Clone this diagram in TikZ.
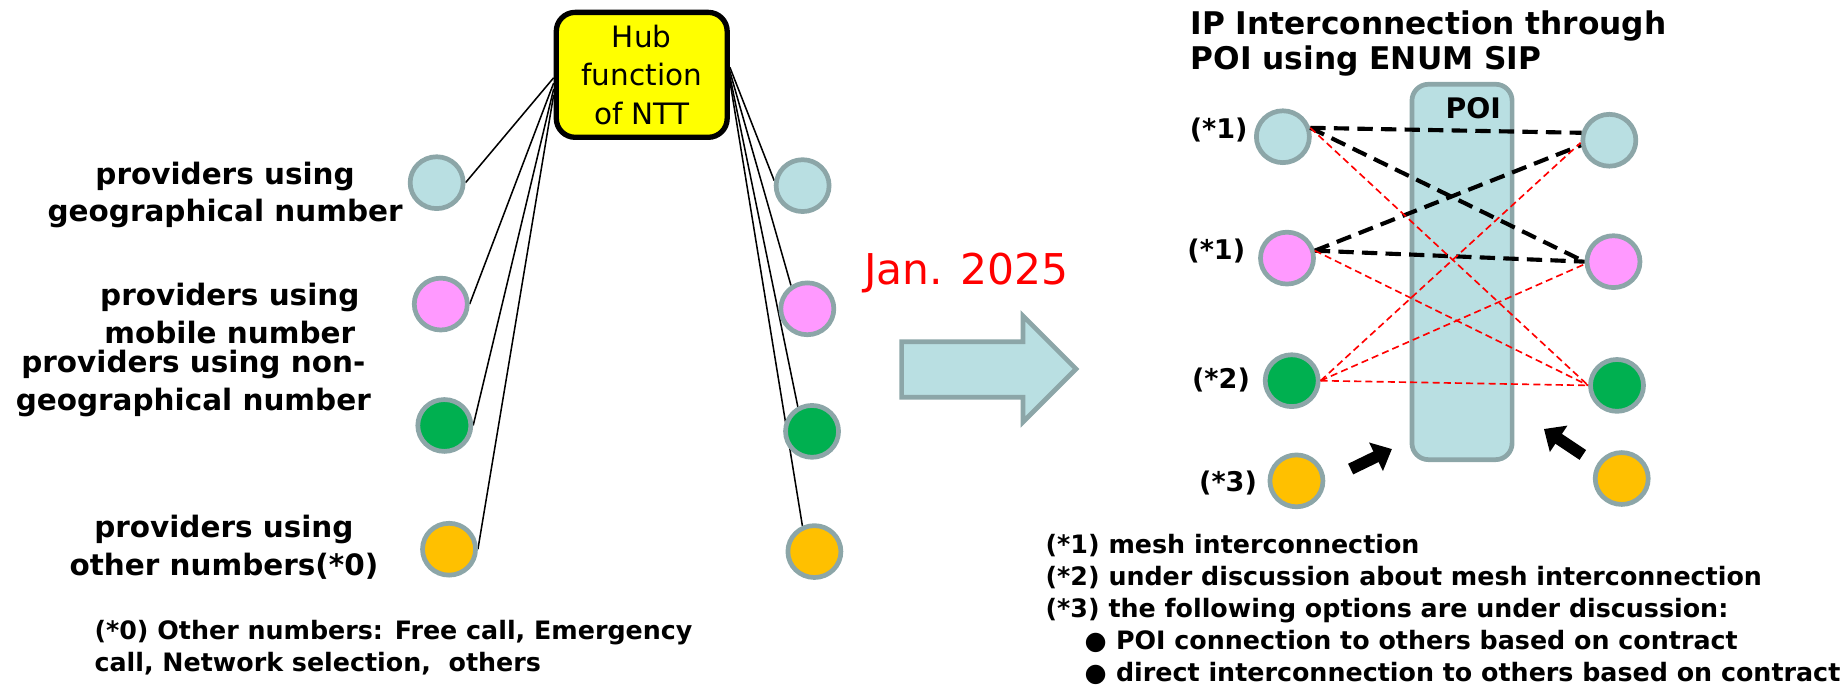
\documentclass[tikz,border=0pt]{standalone}
\usepackage{fontspec}
\setmainfont{DejaVu Sans}
\usetikzlibrary{shapes.geometric,arrows.meta,backgrounds}
\definecolor{lblue}{HTML}{B9DFE2}
\definecolor{pinkc}{HTML}{FF99FF}
\definecolor{greenc}{HTML}{00B050}
\definecolor{orangec}{HTML}{FFC000}
\definecolor{rim}{HTML}{8CA6A8}
\definecolor{hubyellow}{HTML}{FFFF00}
\begin{document}
\begin{tikzpicture}[x=1pt,y=-1pt,
  prov/.style={ellipse, draw=rim, line width=4pt, minimum width=45pt, minimum height=44pt, inner sep=0pt},
  hubline/.style={draw=black, line width=1.3pt},
  mesh/.style={draw=black, line width=3.5pt, dash pattern=on 13pt off 7pt},
  disc/.style={draw=red, line width=1.4pt, dash pattern=on 6pt off 3.5pt},
  lbl/.style={font=\bfseries\fontsize{25}{32}\selectfont, align=center, inner sep=0pt},
  note/.style={font=\bfseries\fontsize{21.5}{27}\selectfont, align=left, inner sep=0pt, anchor=west},
  starlbl/.style={font=\bfseries\fontsize{23}{28}\selectfont, inner sep=0pt},
  poke/.style={draw=black, line width=10pt, -{Triangle[length=15pt,width=26pt]}},
]
\useasboundingbox (0,0) rectangle (1568,582);

% ---------- left part: hub ----------
\node[draw=black, line width=4.5pt, fill=hubyellow, rounded corners=16pt,
      minimum width=145pt, minimum height=106pt, align=center,
      font=\fontsize{25}{32.5}\selectfont, inner sep=0pt] (hub) at (544.5,63.5) {Hub\\function\\of NTT};

\node[prov, fill=lblue]   (lb) at (370.5,155) {};
\node[prov, fill=pinkc]   (lp) at (374,258) {};
\node[prov, fill=greenc]  (lg) at (377,361) {};
\node[prov, fill=orangec] (lo) at (381,466) {};

\node[prov, fill=lblue]   (rb) at (681,157.5) {};
\node[prov, fill=pinkc]   (rp) at (685,262) {};
\node[prov, fill=greenc]  (rg) at (689,366) {};
\node[prov, fill=orangec] (ro) at (691,468) {};

\begin{scope}[on background layer]
\draw[hubline] ([yshift=-2.5pt]hub.west) -- (lb.east);
\draw[hubline] ([yshift=-7pt]hub.west) -- (lp.east);
\draw[hubline] ([yshift=-12pt]hub.west) -- (lg.east);
\draw[hubline] ([yshift=-17pt]hub.west) -- (lo.east);
\draw[hubline] ([yshift=6.5pt]hub.east) -- (rb.170);
\draw[hubline] ([yshift=3pt]hub.east) -- (rp.125);
\draw[hubline] ([yshift=-1pt]hub.east) -- (rg.120);
\draw[hubline] ([yshift=-5pt]hub.east) -- (ro.115);
\end{scope}

\node[lbl] (tgeo) at (191,165.5) {providers using\\geographical number};
\node[lbl] (tmob) at (195,266) {providers using\\mobile number};
\node[lbl] (tnon) at (164,325.5) {providers using non-\\geographical number};
\node[lbl] (toth) at (190,464.5) {providers using\\other numbers(*0)};
\node[note] (n0) at (80,549.5) {(*0) Other numbers: Free call, Emergency\\call, Network selection,\ \ others};

% ---------- transition ----------
\draw[draw=rim, fill=lblue, line width=4pt, line join=miter]
  (765,290) -- (868,290) -- (868,268) -- (913,313) -- (868,358) -- (868,337) -- (765,337) -- cycle;
\node[text=red, font=\fontsize{36}{40}\selectfont, inner sep=0pt] (jan) at (820,232) {Jan. 2025};

% ---------- right part: POI ----------
\node[font=\bfseries\fontsize{26.5}{30}\selectfont, align=left, anchor=west, inner sep=0pt] (title) at (1010,37)
  {IP Interconnection through\\POI using ENUM SIP};
\node[draw=rim, fill=lblue, line width=4pt, rounded corners=14pt,
      minimum width=85pt, minimum height=318.5pt, inner sep=0pt] (poi) at (1240.5,230.75) {};
\node[font=\bfseries\fontsize{24}{28}\selectfont, inner sep=0pt] (poilbl) at (1250,92) {POI};

\node[prov, fill=lblue]   (pb) at (1088.5,116) {};
\node[prov, fill=pinkc]   (pp) at (1092,219) {};
\node[prov, fill=greenc]  (pg) at (1096,323) {};
\node[prov, fill=orangec] (po) at (1100,408) {};

\node[prov, fill=lblue]   (qb) at (1365.5,119) {};
\node[prov, fill=pinkc]   (qp) at (1369,222) {};
\node[prov, fill=greenc]  (qg) at (1372,327) {};
\node[prov, fill=orangec] (qo) at (1376,406) {};

\node[starlbl] (s1) at (1034,110) {(*1)};
\node[starlbl] (s2) at (1032,213) {(*1)};
\node[starlbl] (s3) at (1036,322) {(*2)};
\node[starlbl] (s4) at (1042,410) {(*3)};

\draw[mesh] (pb.18) -- (qb.165);
\draw[mesh] (pb.18) -- (qp.180);
\draw[mesh] (pp.15) -- (qb.190);
\draw[mesh] (pp.15) -- (qp.180);

\draw[disc] (pb.18) -- (qg.180);
\draw[disc] (pp.15) -- (qg.180);
\draw[disc] (pg.east) -- (qb.185);
\draw[disc] (pg.east) -- (qp.185);
\draw[disc] (pg.east) -- (qg.180);

\coordinate (a1s) at (1146,398);
\coordinate (a1e) at (1181,381);
\coordinate (a2s) at (1343,386);
\coordinate (a2e) at (1310,364);
\draw[poke] (a1s) -- (a1e);
\draw[poke] (a2s) -- (a2e);

\node[note] (notes) at (887,517) {(*1) mesh interconnection\\
(*2) under discussion about mesh interconnection\\
(*3) the following options are under discussion:\\
\hspace*{33pt}●\hspace*{8pt}POI connection to others based on contract\\
\hspace*{33pt}●\hspace*{8pt}direct interconnection to others based on contract};
\end{tikzpicture}
\end{document}
